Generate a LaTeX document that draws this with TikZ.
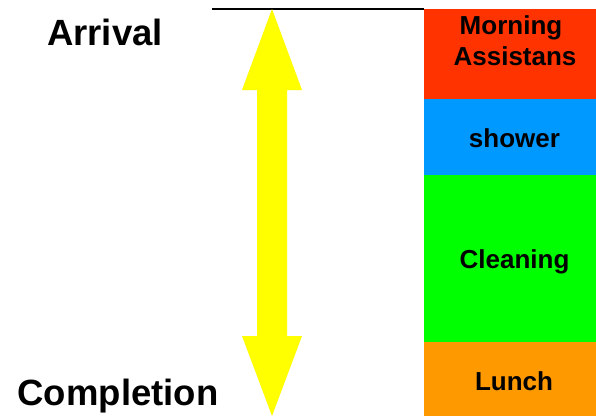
\documentclass[tikz,border=0pt]{standalone}
\usepackage{fontspec}
\setmainfont{Liberation Sans}
\definecolor{cred}{HTML}{FF3300}
\definecolor{cblue}{HTML}{0099FF}
\definecolor{cgreen}{HTML}{00FF00}
\definecolor{corange}{HTML}{FF9900}
\definecolor{cyellow}{HTML}{FFFF00}
\begin{document}
\begin{tikzpicture}[x=1pt,y=-1pt,
  bigtxt/.style={font=\fontsize{36.5}{40}\selectfont\bfseries,anchor=base,inner sep=0pt},
  boxtxt/.style={font=\fontsize{26}{31}\selectfont\bfseries,anchor=base,inner sep=0pt}]
\useasboundingbox (0,0) rectangle (596,416);
% boxes
\fill[cred] (424,9) rectangle (596,99);
\fill[cblue] (424,99) rectangle (596,175);
\fill[cgreen] (424,175) rectangle (596,342);
\fill[corange] (424,342) rectangle (596,416);
% top line
\coordinate (l1) at (212,9);
\coordinate (l2) at (424,9);
\draw[line width=1.5pt] (l1) -- (l2);
% double arrow
\fill[cyellow] (272,9) -- (302,90) -- (287,90) -- (287,336) -- (302,336) -- (272,416)
  -- (242,336) -- (257,336) -- (257,90) -- (242,90) -- cycle;
% texts
\node[bigtxt] (arr) at (105,45) {Arrival};
\node[bigtxt] (comp) at (118,405) {Completion};
\node[boxtxt] (m1) at (511,34) {Morning};
\node[boxtxt] (m2) at (515,65) {Assistans};
\node[boxtxt] (sh) at (514.5,147) {shower};
\node[boxtxt] (cl) at (514.5,268) {Cleaning};
\node[boxtxt] (lu) at (514,390) {Lunch};
\end{tikzpicture}
\end{document}
